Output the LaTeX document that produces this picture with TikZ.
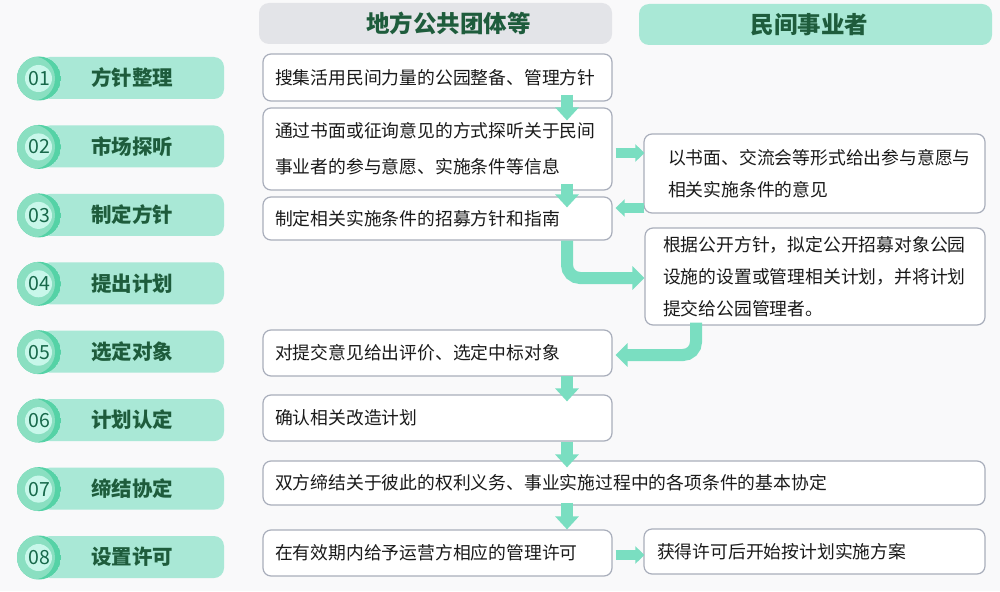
\documentclass[tikz,border=0pt]{standalone}
\usepackage{fontspec}
\newfontfamily\cjk{Noto Sans CJK SC}
\usetikzlibrary{arrows.meta,calc}
\definecolor{bggray}{HTML}{F9F9FA}
\definecolor{hdgray}{HTML}{E3E4E8}
\definecolor{mint}{HTML}{A9E8D6}
\definecolor{dkgreen}{HTML}{1E5C3C}
\definecolor{numgreen}{HTML}{17684A}
\definecolor{ringlt}{HTML}{8ADFC1}
\definecolor{ringdk}{HTML}{55D2A6}
\definecolor{ringin}{HTML}{C8F7EA}
\definecolor{boxgray}{HTML}{A9AEBB}
\definecolor{txtblack}{HTML}{1A1A1A}
\definecolor{flowgreen}{HTML}{7ADEC1}

\begin{document}
\begin{tikzpicture}[x=1pt,y=-1pt,
  header/.style={rounded corners=10pt,minimum width=353pt,minimum height=41pt,
        text width=333pt,align=center,
        text=dkgreen,font=\cjk\bfseries\fontsize{23.5pt}{28pt}\selectfont},
  pill/.style={fill=mint,rounded corners=10pt,minimum width=184pt,minimum height=42pt,
        text=dkgreen,font=\cjk\bfseries\fontsize{20.5pt}{24pt}\selectfont},
  box/.style={draw=boxgray,line width=1.2pt,fill=white,rounded corners=8pt,
        inner xsep=12pt,inner ysep=0pt,align=left,text=txtblack,
        font=\cjk\fontsize{17.8pt}{32pt}\selectfont},
  boxL/.style={box,minimum width=349pt,text width=325pt},
  flowv/.style={draw=flowgreen,line width=12pt,-{Triangle[length=13pt,width=23pt]}},
  flowh/.style={draw=flowgreen,line width=10pt,-{Triangle[length=9pt,width=17pt]}},
  flowb/.style={draw=flowgreen,line width=12pt,rounded corners=13pt,
        -{Triangle[length=12pt,width=23pt]}},
  pics/stepbadge/.style 2 args={code={
    \node[pill] (-pill) at (93,-0.5) {#2};
    \begin{scope}
      \clip (0,0) circle (22pt);
      \fill[ringdk] (0,0) circle (22pt);
      \fill[ringlt] (-6,0) circle (22pt);
    \end{scope}
    \fill[ringin] (-0.5,0) circle (13.5pt);
    \node[text=numgreen,font=\cjk\fontsize{19.5pt}{22pt}\selectfont] (-num) at (0,0) {#1};
  }}]

  % =====================================================================
  % 1. CANVAS & COLUMN HEADERS
  % =====================================================================
  \fill[bggray] (0,0) rectangle (1000,591);
  \useasboundingbox (0,0) rectangle (1000,591);

  \node[header,fill=hdgray] (hL) at (435.5,23.5) {\hspace*{26pt}地方公共团体等};
  \node[header,fill=mint]   (hR) at (815.5,24.5) {\hspace*{-12pt}民间事业者};

  % =====================================================================
  % 2. STEP BADGES
  % =====================================================================
  \pic (s1) at (39,78.5)  {stepbadge={01}{方针整理}};
  \pic (s2) at (39,146.9) {stepbadge={02}{市场探听}};
  \pic (s3) at (39,215.4) {stepbadge={03}{制定方针}};
  \pic (s4) at (39,283.8) {stepbadge={04}{提出计划}};
  \pic (s5) at (39,352.2) {stepbadge={05}{选定对象}};
  \pic (s6) at (39,420.6) {stepbadge={06}{计划认定}};
  \pic (s7) at (39,489.1) {stepbadge={07}{缔结协定}};
  \pic (s8) at (39,557.5) {stepbadge={08}{设置许可}};

  % =====================================================================
  % 3. PUBLIC SIDE BOXES
  % =====================================================================
  \node[boxL,minimum height=47pt] (b1) at (437.5,77.5) {搜集活用民间力量的公园整备、管理方针};
  \node[boxL,minimum height=82pt,font=\cjk\fontsize{17.8pt}{36pt}\selectfont] (b2) at (437.5,149)
        {通过书面或征询意见的方式探听关于民间\\事业者的参与意愿、实施条件等信息};
  \node[boxL,minimum height=43pt] (b3) at (437.5,218.5) {制定相关实施条件的招募方针和指南};
  \node[boxL,minimum height=46pt] (b5) at (437.5,353) {对提交意见给出评价、选定中标对象};
  \node[boxL,minimum height=46pt] (b6) at (437.5,418) {确认相关改造计划};
  \node[box,minimum width=722pt,text width=698pt,minimum height=44pt] (b7) at (624,483)
        {双方缔结关于彼此的权利义务、事业实施过程中的各项条件的基本协定};
  \node[boxL,minimum height=46pt] (b8) at (437.5,553) {在有效期内给予运营方相应的管理许可};

  % =====================================================================
  % 4. PRIVATE SIDE BOXES
  % =====================================================================
  \node[box,minimum width=341pt,inner xsep=24pt,text width=293pt,minimum height=79pt] (r1) at (814.5,173.5)
        {以书面、交流会等形式给出参与意愿与\\相关实施条件的意见};
  \node[box,minimum width=340pt,inner xsep=18pt,text width=304pt,minimum height=97pt] (r2) at (815,276.5)
        {根据公开方针，拟定公开招募对象公园\\设施的设置或管理相关计划，并将计划\\提交给公园管理者。};
  \node[box,minimum width=341pt,inner xsep=13pt,text width=315pt,minimum height=45pt] (r3) at (814.5,551.5)
        {获得许可后开始按计划实施方案};

  % =====================================================================
  % 5. FLOW ARROWS
  % =====================================================================
  \coordinate (lane) at (567,0);

  \draw[flowv] ($(b1.south -| lane)+(0,-7)$) -- ($(b2.north -| lane)+(0,13)$);
  \draw[flowv] ($(b2.south -| lane)+(0,-7)$) -- ($(b3.north -| lane)+(0,11)$);
  \draw[flowv] ($(b5.south -| lane)+(0,-1)$) -- ($(b6.north -| lane)+(0,7)$);
  \draw[flowv] ($(b6.south -| lane)+(0,0)$)  -- ($(b7.north -| lane)+(0,7)$);
  \draw[flowv] ($(b7.south -| lane)+(0,-3)$) -- ($(b8.north -| lane)+(0,0)$);

  \draw[flowh] ($(b2.east)+(3,4)$) -- ($(r1.west)+(1,-20.5)$);
  \draw[flowh] ($(r1.west)+(1,34.5)$) -- ($(b3.east)+(3,-10.5)$);
  \draw[flowh] ($(b8.east)+(3,2)$) -- ($(r3.west)+(1,3.5)$);

  \draw[flowb] (b3.south -| lane) |- ($(r2.west)+(0,1.5)$);
  \draw[flowb] ($(r2.south)+(-119,-3)$) |- ($(b5.east)+(3,2)$);

\end{tikzpicture}
\end{document}
